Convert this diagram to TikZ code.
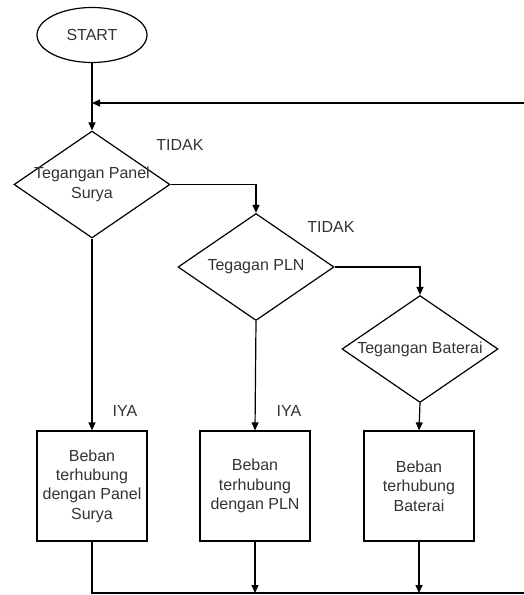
\documentclass[tikz,border=0pt]{standalone}
\usepackage{fontspec}
\setmainfont{Liberation Sans}
\usetikzlibrary{shapes.geometric,arrows.meta}
\definecolor{txtgray}{HTML}{333333}
\begin{document}
\begin{tikzpicture}[x=1pt,y=-1pt,
  line width=1.2pt,
  every node/.style={font=\fontsize{16}{19.3}\selectfont, text=txtgray, align=center},
  startbox/.style={ellipse, draw, minimum width=110pt, minimum height=55pt, inner sep=0pt},
  decbox/.style={diamond, draw, minimum width=156pt, minimum height=107pt, inner sep=0pt},
  procbox/.style={rectangle, draw, minimum width=110pt, minimum height=110pt, inner sep=0pt},
  lbl/.style={inner sep=0pt},
  arr/.style={-{Triangle[length=8pt,width=7pt]}}
]
\useasboundingbox (0,0) rectangle (524,595);

\node[startbox] (start) at (92,35) {START};
\node[decbox] (d1) at (92,184.5) {};
\node[lbl] (t1) at (d1.center) {Tegangan Panel\\Surya};
\node[decbox] (d2) at (256,267) {};
\node[lbl] (t2) at (d2.center) {Tegagan PLN};
\node[decbox] (d3) at (420,349) {};
\node[lbl] (t3) at (d3.center) {Tegangan Baterai};

\node[procbox] (b1) at (92,486) {Beban\\terhubung\\dengan Panel\\Surya};
\node[procbox] (b2) at (255,486) {Beban\\terhubung\\dengan PLN};
\node[procbox] (b3) at (419,486) {Beban\\terhubung\\Baterai};

\node[lbl] (n1) at (180,145) {TIDAK};
\node[lbl] (n2) at (331,227) {TIDAK};
\node[lbl] (y1) at (125,411) {IYA};
\node[lbl] (y2) at (289,411) {IYA};

\coordinate (fb) at (524,103);
\coordinate (fbj) at (92,103);
\coordinate (bl) at (92,593);
\coordinate (br) at (524,593);

\draw[arr] (start.south) -- (d1.north);
\draw[arr] (fb) -- (fbj);
\draw[arr] (d1.east) -| (d2.north);
\draw[arr] (d2.east) -| (d3.north);
\draw[arr] (d1.south) -- (b1.north);
\draw[arr] (d2.south) -- (b2.north);
\draw[arr] (d3.south) -- (b3.north);
\draw (b1.south) -- (bl) -- (br);
\draw[arr] (b2.south) -- (b2.south |- bl);
\draw[arr] (b3.south) -- (b3.south |- bl);
\end{tikzpicture}
\end{document}
